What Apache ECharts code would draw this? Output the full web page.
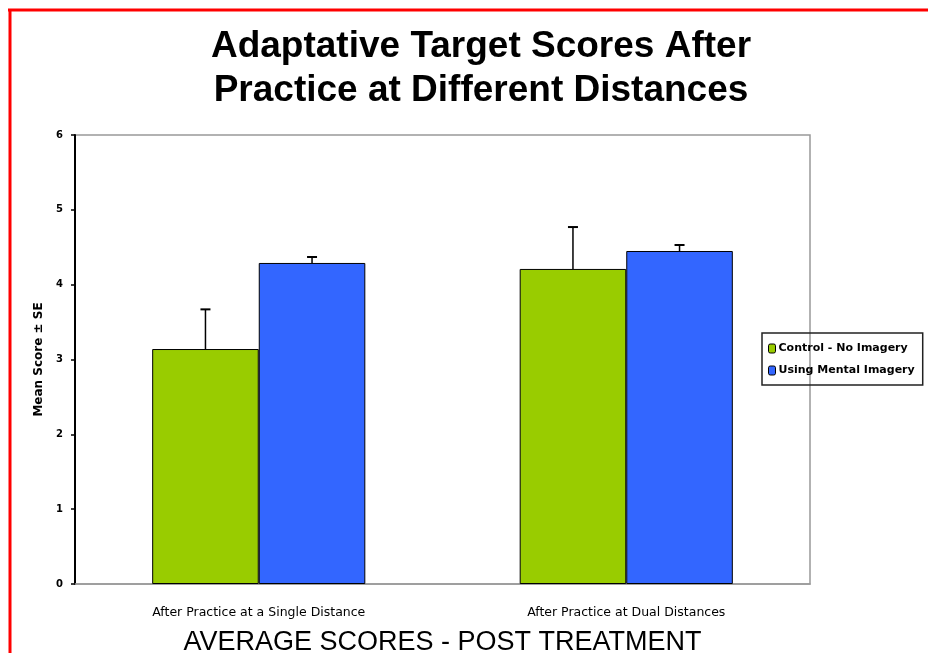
<!DOCTYPE html>
<html><head><meta charset="utf-8">
<script src="https://cdn.jsdelivr.net/npm/echarts@6/dist/echarts.min.js"></script>
<style>html,body{margin:0;padding:0;background:#fff}#c{width:928px;height:653px}</style>
</head><body><div id="c"></div>
<script>
const categories = ['After Practice at a Single Distance', 'After Practice at Dual Distances'];
const seriesNames = ['Control - No Imagery', 'Using Mental Imagery'];
const controlMeans = [3.14, 4.21];
const imageryMeans = [4.29, 4.45];
const controlSE = [0.53, 0.56];
const imagerySE = [0.08, 0.08];
const yTicks = [0, 1, 2, 3, 4, 5, 6];

const chart = echarts.init(document.getElementById('c'));

function errorSeries(means, ses, idx) {
  return {
    type: 'custom',
    name: seriesNames[idx] + ' SE',
    z: 5,
    silent: true,
    data: means.map((m, i) => [i, m, m + ses[i]]),
    renderItem: function (params, api) {
      const ci = api.value(0);
      const base = api.coord([ci, api.value(1)]);
      const top = api.coord([ci, api.value(2)]);
      const bw = api.size([1, 0])[0];
      const barW = bw * 0.29;
      const x = base[0] + (idx === 0 ? -barW / 2 : barW / 2);
      return {
        type: 'group',
        children: [
          { type: 'line', shape: { x1: x, y1: base[1], x2: x, y2: top[1] }, style: { stroke: '#000', lineWidth: 1.5 } },
          { type: 'line', shape: { x1: x - 5, y1: top[1], x2: x + 5, y2: top[1] }, style: { stroke: '#000', lineWidth: 2 } }
        ]
      };
    }
  };
}

chart.setOption({
  animation: false,
  backgroundColor: '#fff',
  title: {
    text: 'Adaptative Target Scores After\nPractice at Different Distances',
    left: 476, textAlign: 'center', top: 20,
    textStyle: { fontFamily: 'Liberation Sans, Arial, sans-serif', fontSize: 37, fontWeight: 'bold', color: '#000', lineHeight: 44 }
  },
  legend: {
    orient: 'vertical',
    left: 762, top: 333,
    padding: [10, 8, 9, 6],
    itemGap: 11,
    itemWidth: 7, itemHeight: 9,
    borderColor: '#222', borderWidth: 1.5,
    data: seriesNames.map(n => ({ name: n, itemStyle: { borderColor: '#000', borderWidth: 1 } })),
    textStyle: { fontFamily: 'DejaVu Sans, sans-serif', fontSize: 11, fontWeight: 'bold', color: '#000', padding: [0, 0, 0, -2] }
  },
  grid: { left: 75, right: 118, top: 135, bottom: 69, show: true, borderColor: '#999', borderWidth: 1.5, containLabel: false, outerBoundsMode: 'none' },
  xAxis: {
    type: 'category', data: categories,
    axisLine: { lineStyle: { color: '#999', width: 1.5 } },
    axisTick: { show: false },
    axisLabel: { margin: 22, fontFamily: 'DejaVu Sans, sans-serif', fontSize: 12.5, color: '#000' },
    name: 'AVERAGE SCORES - POST TREATMENT',
    nameLocation: 'middle', nameGap: 45,
    nameTextStyle: { fontFamily: 'Liberation Sans, Arial, sans-serif', fontSize: 27, color: '#000' }
  },
  yAxis: {
    type: 'value', min: yTicks[0], max: yTicks[yTicks.length - 1], interval: 1,
    axisLine: { show: true, lineStyle: { color: '#000', width: 2 } },
    axisTick: { show: true, length: 4, lineStyle: { color: '#000', width: 1.5 } },
    splitLine: { show: false },
    axisLabel: { margin: 12, fontFamily: 'DejaVu Sans, sans-serif', fontSize: 10, fontWeight: 'bold', color: '#000' },
    name: 'Mean Score ± SE',
    nameLocation: 'middle', nameGap: 30, nameRotate: 90,
    nameTextStyle: { fontFamily: 'DejaVu Sans, sans-serif', fontSize: 12, fontWeight: 'bold', color: '#000' }
  },
  series: [
    { type: 'bar', name: seriesNames[0], data: controlMeans, barGap: '0%', barCategoryGap: '42%',
      itemStyle: { color: '#99cc00', borderColor: '#000', borderWidth: 1 } },
    { type: 'bar', name: seriesNames[1], data: imageryMeans,
      itemStyle: { color: '#3366ff', borderColor: '#000', borderWidth: 1 } },
    errorSeries(controlMeans, controlSE, 0),
    errorSeries(imageryMeans, imagerySE, 1)
  ],
  graphic: [
    { type: 'line', shape: { x1: 8, y1: 10, x2: 928, y2: 10 }, style: { stroke: '#ff0000', lineWidth: 3 } },
    { type: 'line', shape: { x1: 10, y1: 9, x2: 10, y2: 653 }, style: { stroke: '#ff0000', lineWidth: 3 } }
  ]
});
</script></body></html>
